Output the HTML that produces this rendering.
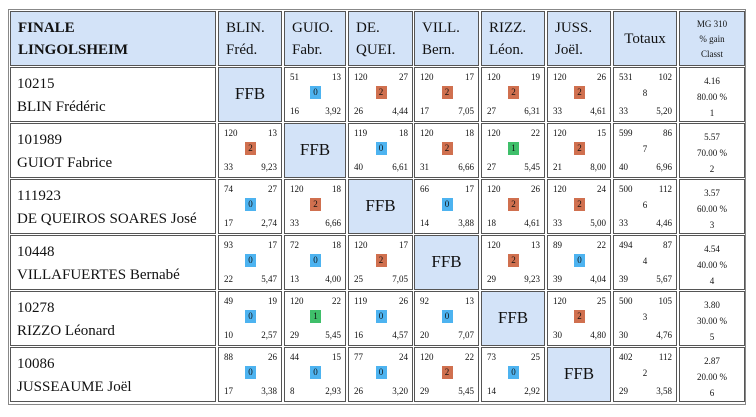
<!DOCTYPE html>
<html><head><meta charset="utf-8"><style>
body{margin:0;width:756px;height:417px;background:#fff;position:relative;font-family:"Liberation Serif",serif;color:#111;overflow:hidden}
.o{position:absolute;left:8px;top:9px;width:738px;height:396px;border:1px solid #888;box-sizing:border-box}
.c{position:absolute;box-sizing:border-box;border:1px solid #555;background:#fff}
.h{background:#d3e3f8}
.s{font-size:9px;position:absolute;line-height:10px}
.b{position:absolute;font-size:9px;width:11px;height:13px;line-height:13px;text-align:center;left:50%;margin-left:-5px;top:18px}
.b0{background:#4db3f0}.b1{background:#3fbf6a}.b2{background:#d0704f}
</style></head><body>
<div class="o"></div>
<div id="t"></div>
<script>
var X=[10,218,284,348,414,481,547,613,679],W=[206,64,62,65,65,64,64,64,66];
var hdr=["<b>FINALE<br>LINGOLSHEIM</b>","BLIN.<br>Fréd.","GUIO.<br>Fabr.","DE.<br>QUEI.","VILL.<br>Bern.","RIZZ.<br>Léon.","JUSS.<br>Joël."];
var names=[["10215","BLIN Frédéric"],["101989","GUIOT Fabrice"],["111923","DE QUEIROS SOARES José"],["10448","VILLAFUERTES Bernabé"],["10278","RIZZO Léonard"],["10086","JUSSEAUME Joël"]];
var d=[
[null,[51,13,0,16,"3,92"],[120,27,2,26,"4,44"],[120,17,2,17,"7,05"],[120,19,2,27,"6,31"],[120,26,2,33,"4,61"],[531,102,8,33,"5,20"],["4.16","80.00 %","1"]],
[[120,13,2,33,"9,23"],null,[119,18,0,40,"6,61"],[120,18,2,31,"6,66"],[120,22,1,27,"5,45"],[120,15,2,21,"8,00"],[599,86,7,40,"6,96"],["5.57","70.00 %","2"]],
[[74,27,0,17,"2,74"],[120,18,2,33,"6,66"],null,[66,17,0,14,"3,88"],[120,26,2,18,"4,61"],[120,24,2,33,"5,00"],[500,112,6,33,"4,46"],["3.57","60.00 %","3"]],
[[93,17,0,22,"5,47"],[72,18,0,13,"4,00"],[120,17,2,25,"7,05"],null,[120,13,2,29,"9,23"],[89,22,0,39,"4,04"],[494,87,4,39,"5,67"],["4.54","40.00 %","4"]],
[[49,19,0,10,"2,57"],[120,22,1,29,"5,45"],[119,26,0,16,"4,57"],[92,13,0,20,"7,07"],null,[120,25,2,30,"4,80"],[500,105,3,30,"4,76"],["3.80","30.00 %","5"]],
[[88,26,0,17,"3,38"],[44,15,0,8,"2,93"],[77,24,0,26,"3,20"],[120,22,2,29,"5,45"],[73,25,0,14,"2,92"],null,[402,112,2,29,"3,58"],["2.87","20.00 %","6"]]];
var h="";
function cell(x,w,y,ht,cls,inner){return '<div class="c '+cls+'" style="left:'+x+'px;top:'+y+'px;width:'+w+'px;height:'+ht+'px">'+inner+'</div>';}
for(var i=0;i<7;i++)h+=cell(X[i],W[i],11,55,"h",'<div style="position:absolute;left:7px;top:5px;font-size:15px;line-height:22px">'+hdr[i]+'</div>');
h+=cell(X[7],W[7],11,55,"h",'<div style="position:absolute;left:0;right:0;top:19px;text-align:center;font-size:15px">Totaux</div>');
h+=cell(X[8],W[8],11,55,"h",'<div style="position:absolute;left:0;right:0;top:5px;text-align:center;font-size:9px;line-height:15px">MG 310<br>% gain<br>Classt</div>');
for(var r=0;r<6;r++){var y=67+56*r;
h+=cell(X[0],W[0],y,55,"",'<div style="position:absolute;left:6px;top:5px;font-size:15px;line-height:23px">'+names[r][0]+'<br>'+names[r][1]+'</div>');
for(var c=1;c<9;c++){var v=d[r][c-1],inn;
if(v===null){h+=cell(X[c],W[c],y,55,"h",'<div style="position:absolute;left:0;right:0;top:16px;text-align:center;font-size:17px">FFB</div>');continue;}
if(c==8){inn='<div style="position:absolute;left:0;right:0;top:5px;text-align:center;font-size:9px;line-height:16px">'+v.join("<br>")+'</div>';}
else{inn='<span class="s" style="left:5px;top:4px">'+v[0]+'</span><span class="s" style="right:4px;top:4px">'+v[1]+'</span>'+
(c==7?'<span class="s" style="left:0;right:0;text-align:center;top:20px">'+v[2]+'</span>':'<span class="b b'+v[2]+'">'+v[2]+'</span>')+
'<span class="s" style="left:5px;top:38px">'+v[3]+'</span><span class="s" style="right:4px;top:38px">'+v[4]+'</span>';}
h+=cell(X[c],W[c],y,55,"",inn);}}
document.getElementById("t").innerHTML=h;
</script>
</body></html>
